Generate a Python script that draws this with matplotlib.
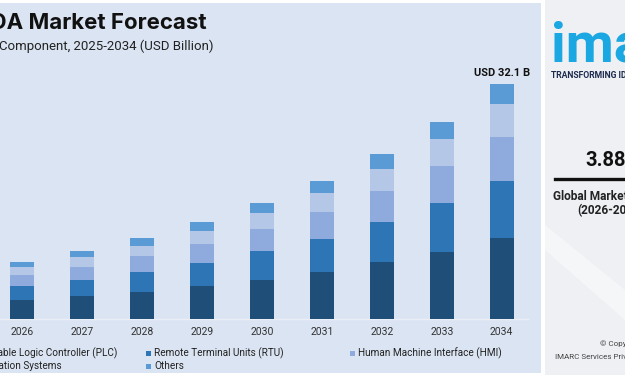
import matplotlib
matplotlib.use("Agg")
import matplotlib.pyplot as plt
from matplotlib.patches import Rectangle
from matplotlib.lines import Line2D

plt.rcParams['font.family'] = ['Roboto', 'DejaVu Sans']

# ---------------- data ----------------
years = ['2026', '2027', '2028', '2029', '2030', '2031', '2032', '2033', '2034']
plc = [2.64, 3.14, 3.69, 4.51, 5.33, 6.42, 7.75, 9.19, 11.07]
rtu = [1.91, 2.23, 2.73, 3.18, 3.96, 4.55, 5.46, 6.61, 7.83]
hmi = [1.50, 1.73, 2.19, 2.51, 2.96, 3.65, 4.28, 5.10, 6.01]
comm = [1.05, 1.33, 1.41, 1.82, 2.19, 2.55, 3.05, 3.65, 4.47]
others = [0.63, 0.86, 1.01, 1.19, 1.37, 1.64, 1.97, 2.32, 2.73]

series_names = ['Programmable Logic Controller (PLC)', 'Remote Terminal Units (RTU)',
                'Human Machine Interface (HMI)', 'Communication Systems', 'Others']
series_values = [plc, rtu, hmi, comm, others]
series_colors = ['#1f4e79', '#2e75b6', '#8faadc', '#b4c7e7', '#5b9bd5']

total_label = 'USD 32.1 B'
cagr = '3.88%'

W, H = 625, 375


def fx(x):
    return x / W


def fy(y):
    return 1 - y / H


fig = plt.figure(figsize=(W / 100, H / 100), dpi=100)
fig.patch.set_facecolor('white')

# panels
fig.add_artist(Rectangle((fx(0), fy(373)), fx(541), 370 / H, transform=fig.transFigure,
                         facecolor='#dbe4f2', edgecolor='none', zorder=-10))
fig.add_artist(Rectangle((fx(545), 0), fx(80), 1, transform=fig.transFigure,
                         facecolor='#eef0f3', edgecolor='none', zorder=-10))
# faint diagonal streak in the side panel
fig.add_artist(plt.Polygon([[fx(545), fy(225)], [fx(545), fy(250)], [fx(625), fy(320)], [fx(625), fy(290)]],
                           closed=True, transform=fig.transFigure, facecolor='#f5f6f8',
                           edgecolor='none', zorder=-9))

# ---------------- chart ----------------
ax = fig.add_axes([0, 56 / H, 528 / W, (319 - 60) / H])
ax.set_facecolor('none')
x = list(range(len(years)))
bottom = [0.0] * len(years)
for name, vals, col in zip(series_names, series_values, series_colors):
    ax.bar(x, vals, width=0.4, bottom=bottom, color=col, label=name, zorder=3)
    bottom = [b + v for b, v in zip(bottom, vals)]

ax.set_xlim(-22.2 / 59.94, (528 - 22.2) / 59.94)
ax.set_ylim(0, (319 - 60) / 7.32)
for s in ['top', 'right', 'left']:
    ax.spines[s].set_visible(False)
ax.spines['bottom'].set_color('#eaeff7')
ax.spines['bottom'].set_linewidth(1)
ax.set_yticks([])
ax.set_xticks(x)
ax.set_xticklabels(years, fontsize=7.5, color='#333333')
ax.tick_params(axis='x', length=0, pad=6)

ax.annotate(total_label, xy=(x[-1], bottom[-1]), xytext=(0, 4), textcoords='offset points',
            ha='center', va='bottom', fontsize=8, fontweight='bold', color='#111111')

# titles
fig.text(fx(207), fy(23), 'SCADA Market Forecast', ha='right', va='center',
         fontsize=16, fontweight='bold', color='#111111', family=['Inter', 'DejaVu Sans'])
fig.text(fx(213), fy(46), 'Market Breakup by Component, 2025-2034 (USD Billion)', ha='right',
         va='center', fontsize=9.5, color='#222222')

# legend (manual grid)
col_x = [-58, 146, 350]
row_y = [353, 366]
slots = [(0, 0), (1, 0), (2, 0), (0, 1), (1, 1)]
for name, col, (c, r) in zip(series_names, series_colors, slots):
    fig.add_artist(Rectangle((fx(col_x[c]), fy(row_y[r] + 2.5)), 5 / W, 5 / H,
                             transform=fig.transFigure, facecolor=col, edgecolor='none'))
    fig.text(fx(col_x[c] + 8), fy(row_y[r]), name, ha='left', va='center',
             fontsize=7.2, color='#222222')

# side panel
fig.text(fx(551), fy(62), 'imarc', ha='left', va='baseline', fontsize=40,
         fontweight='bold', color='#1ba7e1')
fig.text(fx(551), fy(76), 'TRANSFORMING IDEAS INTO IMPACT', ha='left', va='center',
         fontsize=6.2, fontweight='bold', color='#1d2b4f')
fig.text(fx(585), fy(161), cagr, ha='left', va='center', fontsize=14.5,
         fontweight='bold', color='#111111')
fig.add_artist(Line2D([fx(555), fx(640)], [fy(179), fy(179)], transform=fig.transFigure,
                      color='#111111', linewidth=2.4))
fig.text(fx(553), fy(197), 'Global Market Growth Rate', ha='left', va='center',
         fontsize=8.6, fontweight='bold', color='#222222')
fig.text(fx(577), fy(211), '(2026-2034)', ha='left', va='center',
         fontsize=8.6, fontweight='bold', color='#222222')
fig.text(fx(600), fy(344), '© Copyright', ha='left', va='center', fontsize=5.8, color='#444444')
fig.text(fx(555), fy(357), 'IMARC Services Private Limited', ha='left', va='center',
         fontsize=5.8, color='#444444')

fig.savefig('out.png', dpi=100)
